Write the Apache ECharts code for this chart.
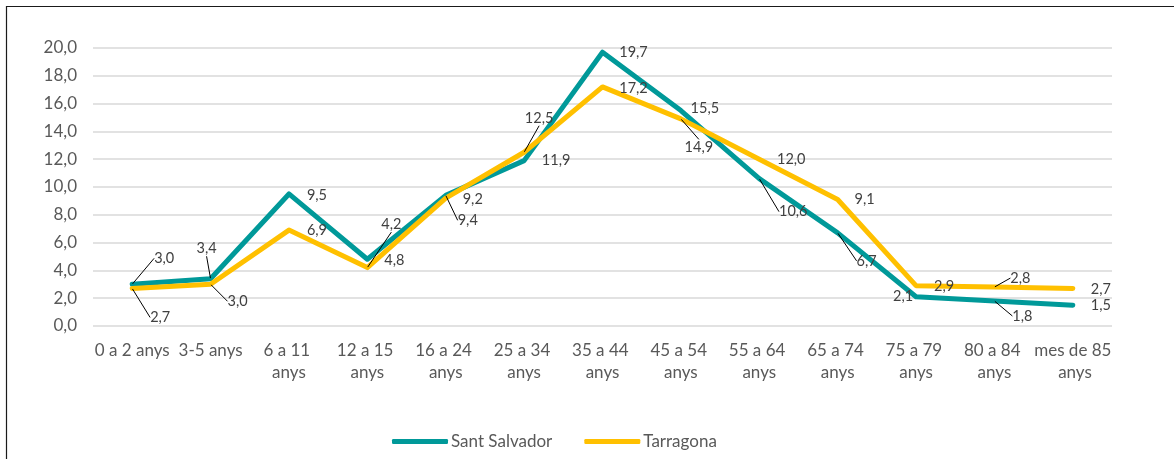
<!DOCTYPE html>
<html>
<head>
<meta charset="utf-8">
<script src="https://cdn.jsdelivr.net/npm/echarts@6/dist/echarts.min.js"></script>
<style>
html,body{margin:0;padding:0;background:#fff;}
#chart{width:1174px;height:459px;}
</style>
</head>
<body>
<div id="chart"></div>
<script>
const categories = ["0 a 2 anys","3-5 anys","6 a 11 anys","12 a 15 anys","16 a 24 anys","25 a 34 anys","35 a 44 anys","45 a 54 anys","55 a 64 anys","65 a 74 anys","75 a 79 anys","80 a 84 anys","mes de 85 anys"];
const santSalvador = [3.0,3.4,9.5,4.8,9.4,11.9,19.7,15.5,10.6,6.7,2.1,1.8,1.5];
const tarragona = [2.7,3.0,6.9,4.2,9.2,12.5,17.2,14.9,12.0,9.1,2.9,2.8,2.7];
const seriesNames = ["Sant Salvador","Tarragona"];

// label placement (style only): offsets from point, and whether a leader line is drawn
const labelOffsets = [
  [[32,-26],[-4,-30],[28,1],[27,1],[22,25],[32,0],[31,0],[24,-2],[34,33],[29,28],[-13,0],[28,15],[28,0]],
  [[28,29],[27,17],[28,0],[24,-43],[27,1],[15,-34],[31,1],[18,28],[32,0],[27,0],[28,1],[26,-9],[28,1]]
];
const leaders = [
  [1,1,0,0,1,0,0,0,1,1,0,1,0],
  [1,1,0,1,0,1,0,1,0,0,0,1,0]
];
const colors = ["#009999","#FFC000"];

const fmt = v => v.toFixed(1).replace('.', ',');
const FONT = 'Lato';

function buildSeries(idx, values){
  return {
    name: seriesNames[idx],
    type: 'line',
    data: values.map((v,i)=>({
      value: v,
      labelLine: { show: !!leaders[idx][i] }
    })),
    symbol: 'circle',
    symbolSize: 1,
    showSymbol: true,
    itemStyle: { color: colors[idx] },
    lineStyle: { width: 5, color: colors[idx], cap: 'round', join: 'round' },
    label: {
      show: true,
      position: 'inside',
      formatter: p => fmt(p.value),
      color: '#404040',
      fontFamily: FONT,
      fontSize: 14.5
    },
    labelLine: { show: false, lineStyle: { color: '#000', width: 1 } },
    labelLayout: function(p){
      const o = labelOffsets[idx][p.dataIndex];
      return { dx: o[0], dy: o[1], hideOverlap: false };
    },
    emphasis: { disabled: true },
    animation: false
  };
}

const chart = echarts.init(document.getElementById('chart'), null, {renderer:'canvas'});
chart.setOption({
  backgroundColor: '#fff',
  animation: false,
  graphic: [{
    type: 'rect', left: 4, top: 4,
    shape: { x: 0, y: 0, width: 1300, height: 600 },
    style: { fill: 'none', stroke: '#1a1a1a', lineWidth: 1.2 },
    silent: true
  }],
  grid: { left: 93, right: 62, top: 48, bottom: 133, containLabel: false },
  legend: {
    data: seriesNames,
    left: 387, top: 428,
    icon: 'roundRect',
    itemWidth: 56, itemHeight: 5,
    itemGap: 32,
    textStyle: { color: '#595959', fontFamily: FONT, fontSize: 17, padding: [0,0,0,-2] }
  },
  xAxis: {
    type: 'category',
    data: categories,
    boundaryGap: true,
    axisLine: { show: false },
    axisTick: { show: false },
    axisLabel: {
      color: '#595959', fontFamily: FONT, fontSize: 17,
      margin: 14, interval: 0, width: 78, overflow: 'break', lineHeight: 22
    }
  },
  yAxis: {
    type: 'value', min: 0, max: 20, interval: 2,
    axisLine: { show: false }, axisTick: { show: false },
    splitLine: { lineStyle: { color: '#d9d9d9', width: 1.5 } },
    axisLabel: { color: '#595959', fontFamily: FONT, fontSize: 17, margin: 16, formatter: v => fmt(v) }
  },
  series: [buildSeries(0, santSalvador), buildSeries(1, tarragona)]
});
</script>
</body>
</html>
